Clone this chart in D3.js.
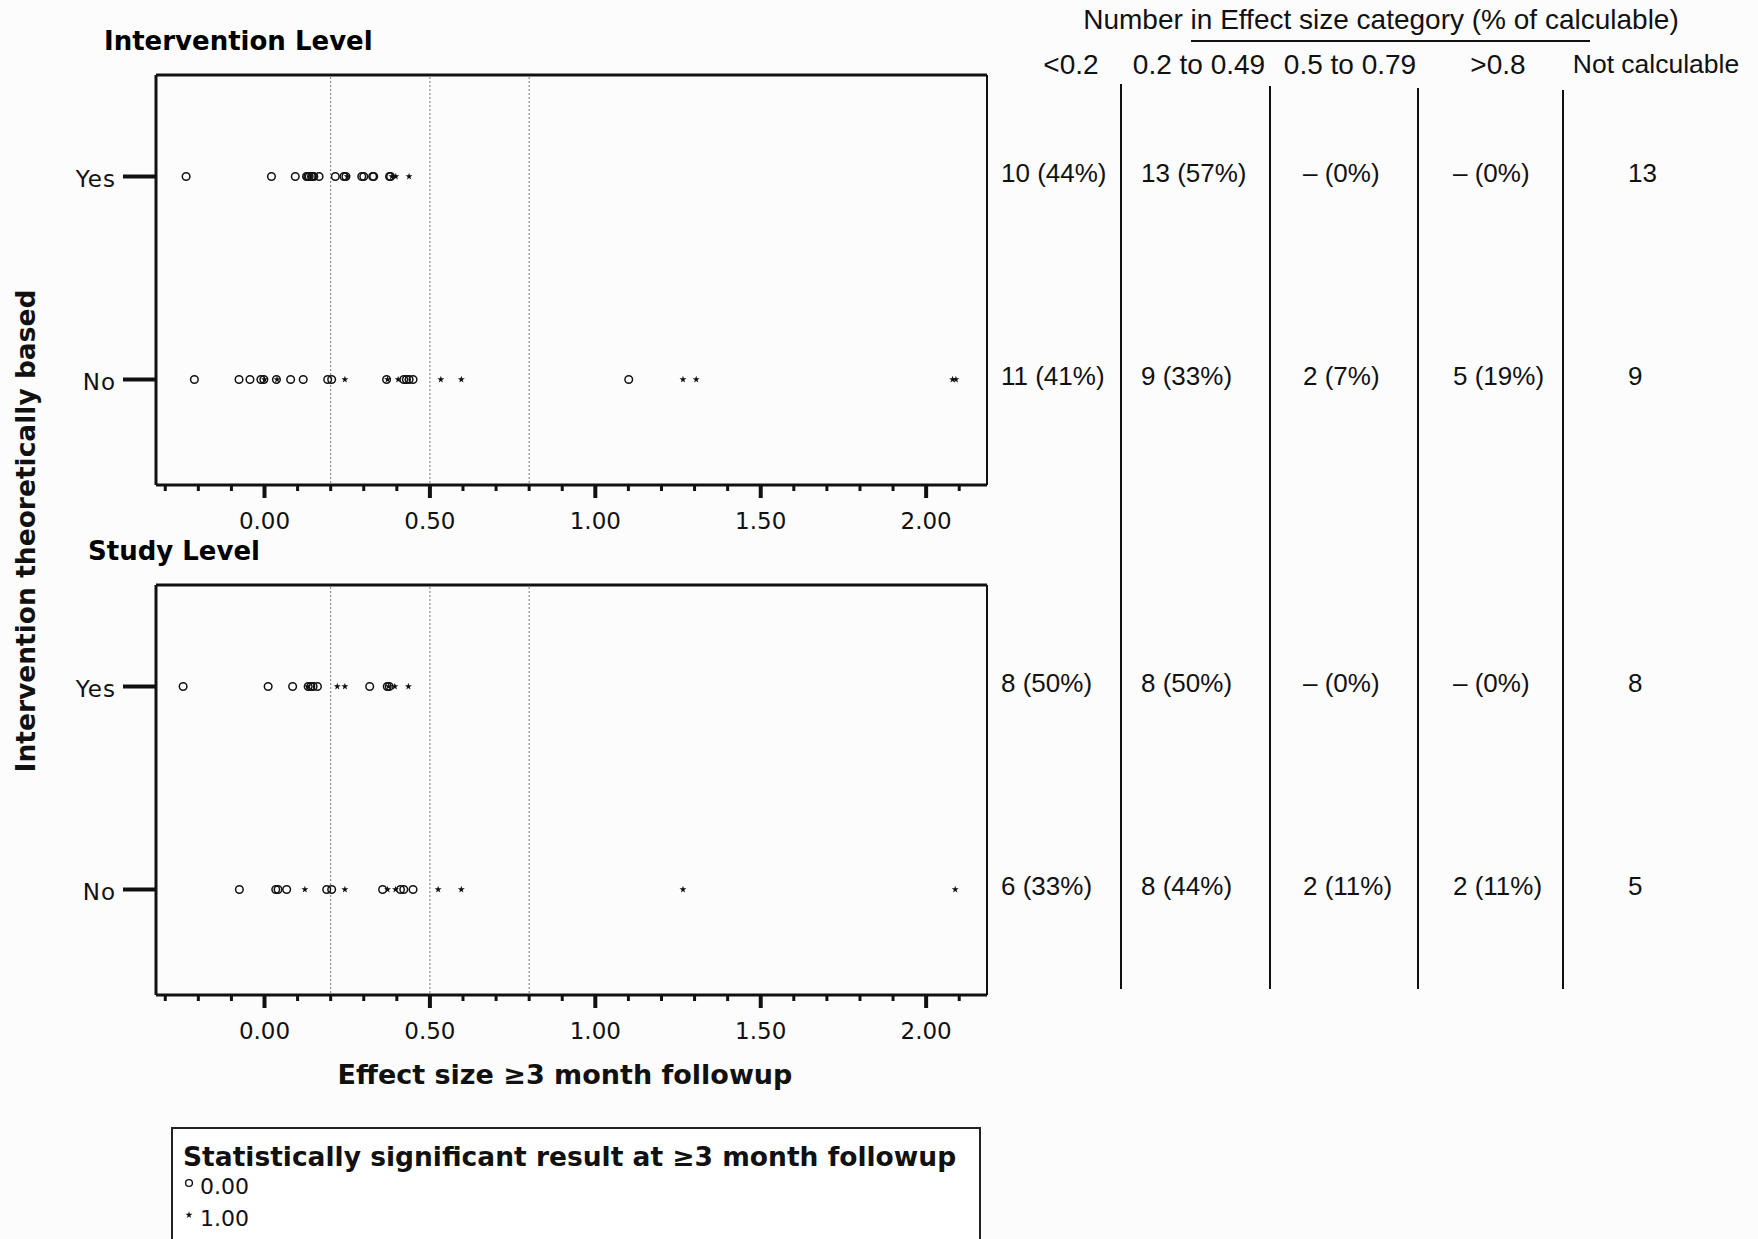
<!DOCTYPE html>
<html><head><meta charset="utf-8">
<script src="https://cdn.jsdelivr.net/npm/d3@7"></script>
<style>body{margin:0;background:#fcfcfc} svg{display:block}</style>
</head><body><svg id="c" width="1758" height="1239"></svg>
<script>
const categories = ["Yes", "No"];
const panelTitles = ["Intervention Level", "Study Level"];
const majorTicks = [0, 0.5, 1, 1.5, 2];
const minorTicks = [-0.3,-0.2,-0.1,0.1,0.2,0.3,0.4,0.6,0.7,0.8,0.9,1.1,1.2,1.3,1.4,1.6,1.7,1.8,1.9,2.1];
const refLines = [0.2, 0.5, 0.8];

// Effect sizes, circle = not significant (0.00), star = significant (1.00)
const intYesNotSig = [-0.237, 0.021, 0.093, 0.127, 0.131, 0.135, 0.142, 0.145, 0.149, 0.165, 0.214, 0.240, 0.246, 0.294, 0.300, 0.327, 0.330, 0.378, 0.381];
const intYesSig    = [0.250, 0.385, 0.397, 0.437];
const intNoNotSig  = [-0.212, -0.077, -0.044, -0.011, -0.002, 0.036, 0.079, 0.117, 0.191, 0.203, 0.369, 0.421, 0.429, 0.437, 0.449, 1.101];
const intNoSig     = [0.000, 0.038, 0.243, 0.372, 0.404, 0.533, 0.595, 1.265, 1.305, 2.080, 2.090];
const stYesNotSig  = [-0.246, 0.011, 0.085, 0.132, 0.140, 0.147, 0.160, 0.318, 0.371, 0.377];
const stYesSig     = [0.130, 0.220, 0.243, 0.375, 0.394, 0.435];
const stNoNotSig   = [-0.076, 0.034, 0.041, 0.067, 0.188, 0.203, 0.357, 0.411, 0.421, 0.449];
const stNoSig      = [0.122, 0.243, 0.372, 0.396, 0.525, 0.595, 1.265, 2.088];

const tableTitle = "Number in Effect size category (% of calculable)";
const tableHeaders = ["<0.2", "0.2 to 0.49", "0.5 to 0.79", ">0.8", "Not calculable"];
const intYesRow = ["10 (44%)", "13 (57%)", "– (0%)", "– (0%)", "13"];
const intNoRow  = ["11 (41%)", "9 (33%)", "2 (7%)", "5 (19%)", "9"];
const stYesRow  = ["8 (50%)", "8 (50%)", "– (0%)", "– (0%)", "8"];
const stNoRow   = ["6 (33%)", "8 (44%)", "2 (11%)", "2 (11%)", "5"];

const legendTitle = "Statistically significant result at \u22653 month followup";
const legendLabels = ["0.00", "1.00"];
const xTitle = "Effect size \u22653 month followup";
const yTitle = "Intervention theoretically based";

const svg = d3.select("#c");
const F = "'DejaVu Sans', Verdana, sans-serif";
const TF = "'Liberation Sans', Arial, sans-serif";

const x = d3.scaleLinear().domain([-0.328, 2.184]).range([156, 987]);
const panelH = 410;
const panelTops = [75, 585];
const y = d3.scalePoint().domain(categories).range([0, panelH - 4]).padding(0.5);

const panels = [
  {title: panelTitles[0], top: panelTops[0], data: {Yes: [intYesNotSig, intYesSig], No: [intNoNotSig, intNoSig]}, rows: {Yes: intYesRow, No: intNoRow}},
  {title: panelTitles[1], top: panelTops[1], data: {Yes: [stYesNotSig, stYesSig], No: [stNoNotSig, stNoSig]}, rows: {Yes: stYesRow, No: stNoRow}}
];

const star = d3.symbol().type(d3.symbolStar).size(15);
const colX = [1001, 1141, 1303, 1453, 1628];

panels.forEach((p, pi) => {
  const g = svg.append("g").attr("transform", `translate(0,${p.top})`);
  const x0 = x.range()[0], x1 = x.range()[1];
  svg.append("text").attr("x", pi === 0 ? 104 : 88).attr("y", p.top - 34)
    .attr("font-family", F).attr("font-weight", "bold").attr("font-size", 26)
    .attr("dominant-baseline", "central").text(p.title);
  g.selectAll("line.ref").data(refLines).join("line").attr("class", "ref")
    .attr("x1", d => x(d)).attr("x2", d => x(d)).attr("y1", 2).attr("y2", panelH)
    .attr("stroke", "#777").attr("stroke-width", 1).attr("stroke-dasharray", "2,2");
  g.append("line").attr("x1", x0).attr("x2", x1).attr("y1", 0).attr("y2", 0).attr("stroke", "#111").attr("stroke-width", 3);
  g.append("line").attr("x1", x0).attr("x2", x0).attr("y1", 0).attr("y2", panelH).attr("stroke", "#111").attr("stroke-width", 3);
  g.append("line").attr("x1", x1).attr("x2", x1).attr("y1", 0).attr("y2", panelH).attr("stroke", "#111").attr("stroke-width", 2);
  const ax = g.append("g").attr("transform", `translate(0,${panelH})`);
  ax.append("line").attr("x1", x0).attr("x2", x1).attr("stroke", "#111").attr("stroke-width", 3);
  ax.selectAll("line.mi").data(minorTicks).join("line").attr("class", "mi")
    .attr("x1", d => x(d)).attr("x2", d => x(d)).attr("y1", 0).attr("y2", 6).attr("stroke", "#111").attr("stroke-width", 3);
  ax.selectAll("line.ma").data(majorTicks).join("line").attr("class", "ma")
    .attr("x1", d => x(d)).attr("x2", d => x(d)).attr("y1", 0).attr("y2", 13).attr("stroke", "#111").attr("stroke-width", 4);
  ax.selectAll("text").data(majorTicks).join("text")
    .attr("x", d => x(d)).attr("y", 36).attr("text-anchor", "middle").attr("dominant-baseline", "central")
    .attr("font-family", F).attr("font-size", 23).attr("fill", "#111").text(d3.format(".2f"));
  categories.forEach(c => {
    g.append("line").attr("x1", 123).attr("x2", x0).attr("y1", y(c)).attr("y2", y(c)).attr("stroke", "#111").attr("stroke-width", 4);
    g.append("text").attr("x", 116).attr("y", y(c) + 2).attr("text-anchor", "end").attr("dominant-baseline", "central")
      .attr("font-family", F).attr("font-size", 23).attr("letter-spacing", 1).attr("fill", "#111").text(c);
    const [ns, sg] = p.data[c];
    g.selectAll(null).data(ns).join("circle").attr("cx", d => x(d)).attr("cy", y(c)).attr("r", 3.8)
      .attr("fill", "none").attr("stroke", "#111").attr("stroke-width", 1.5);
    g.selectAll(null).data(sg).join("path").attr("d", star)
      .attr("transform", d => `translate(${x(d)},${y(c)})`).attr("fill", "#111");
    g.selectAll(null).data(p.rows[c]).join("text")
      .attr("x", (d, i) => colX[i]).attr("y", y(c) - 4).attr("dominant-baseline", "central")
      .attr("font-family", TF).attr("font-size", 26).attr("fill", "#111").text(d => d);
  });
});

svg.append("text").attr("x", 565).attr("y", 1074).attr("text-anchor", "middle").attr("dominant-baseline", "central")
  .attr("font-family", F).attr("font-weight", "bold").attr("font-size", 27).attr("fill", "#111").text(xTitle);
svg.append("text").attr("transform", "translate(25,531) rotate(-90)").attr("text-anchor", "middle").attr("dominant-baseline", "central")
  .attr("font-family", F).attr("font-weight", "bold").attr("font-size", 26.5).attr("fill", "#111").text(yTitle);

svg.append("text").attr("x", 1381).attr("y", 19).attr("text-anchor", "middle").attr("dominant-baseline", "central")
  .attr("font-family", TF).attr("font-size", 28).attr("fill", "#111").text(tableTitle);
svg.append("line").attr("x1", 1191).attr("x2", 1590).attr("y1", 41).attr("y2", 41).attr("stroke", "#111").attr("stroke-width", 2);
const headX = [1071, 1199, 1350, 1498, 1656];
svg.selectAll("text.hd").data(tableHeaders).join("text").attr("class", "hd")
  .attr("x", (d, i) => headX[i]).attr("y", 64).attr("text-anchor", "middle").attr("dominant-baseline", "central")
  .attr("font-family", TF).attr("font-size", (d, i) => i === 4 ? 26.5 : 28).attr("fill", "#111").text(d => d);
const sepX = [1121, 1270, 1418, 1563];
const sepTop = [84, 86, 88, 90];
svg.selectAll("line.sep").data(sepX).join("line").attr("class", "sep")
  .attr("x1", d => d).attr("x2", d => d).attr("y1", (d, i) => sepTop[i]).attr("y2", 989)
  .attr("stroke", "#111").attr("stroke-width", 2);

const lg = svg.append("g");
lg.append("rect").attr("x", 172).attr("y", 1128).attr("width", 808).attr("height", 120)
  .attr("fill", "#fff").attr("stroke", "#222").attr("stroke-width", 2);
lg.append("text").attr("x", 183).attr("y", 1156).attr("dominant-baseline", "central")
  .attr("font-family", F).attr("font-weight", "bold").attr("font-size", 26.5).attr("fill", "#111").text(legendTitle);
lg.append("circle").attr("cx", 189).attr("cy", 1183).attr("r", 3.4).attr("fill", "none").attr("stroke", "#111").attr("stroke-width", 1.4);
lg.append("path").attr("d", star).attr("transform", "translate(189,1215)").attr("fill", "#111");
lg.selectAll("text.li").data(legendLabels).join("text").attr("class", "li")
  .attr("x", 200).attr("y", (d, i) => 1186 + i * 32).attr("dominant-baseline", "central")
  .attr("font-family", F).attr("font-size", 22).attr("fill", "#111").text(d => d);
</script></body></html>
